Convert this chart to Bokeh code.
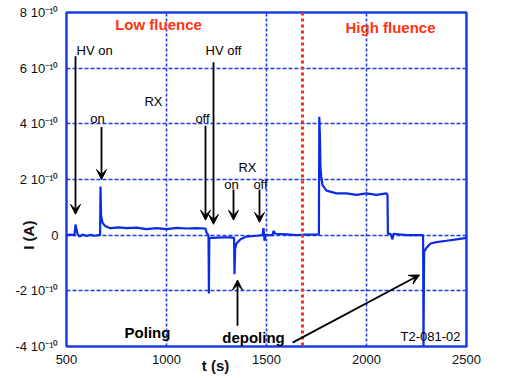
from bokeh.plotting import figure
from bokeh.models import (Arrow, VeeHead, LinearAxis, FixedTicker, Span, ColumnDataSource, Range1d)
from bokeh.core.properties import value
from bokeh.embed import file_html
from bokeh.resources import INLINE

# ---- data (current in units of 1e-10 A) ----
t_s = [500, 520, 540, 545, 550, 555, 565, 580, 600, 620, 640, 660, 668, 670, 673, 680, 690, 700,
       720, 760, 800, 850, 900, 950, 1000, 1050, 1100, 1150, 1195, 1200, 1205, 1210, 1212, 1214,
       1230, 1280, 1320, 1338, 1340, 1343, 1350, 1370, 1400, 1450, 1480, 1485, 1490, 1495, 1530,
       1535, 1545, 1600, 1650, 1700, 1762, 1764, 1767, 1770, 1774, 1780, 1790, 1800, 1850, 1900,
       1950, 2000, 2050, 2100, 2105, 2107, 2120, 2130, 2135, 2200, 2283, 2285, 2288, 2300, 2320,
       2350, 2400, 2450, 2500]
current = [0.0, 0.02, 0.0, 0.38, 0.2, 0.05, -0.05, 0.02, -0.03, 0.01, -0.02, 0.0, 0.0, 1.75, 0.7,
           0.45, 0.35, 0.3, 0.25, 0.28, 0.25, 0.27, 0.22, 0.25, 0.22, 0.26, 0.24, 0.25, 0.24, 0.1,
           0.05, -0.02, -2.1, -0.1, -0.1, -0.08, -0.08, -0.1, -1.4, -0.5, -0.3, -0.15, -0.05, -0.02,
           0.0, 0.25, -0.2, 0.0, 0.0, 0.15, 0.05, 0.03, 0.0, 0.02, 0.03, 4.25, 3.6, 2.4, 2.1, 1.8,
           1.7, 1.6, 1.5, 1.5, 1.45, 1.5, 1.45, 1.5, 1.45, 0.05, 0.05, -0.15, 0.05, 0.0, 0.0, -3.98,
           -0.6, -0.45, -0.3, -0.25, -0.2, -0.15, -0.1]

x_ticks = [500, 1000, 1500, 2000, 2500]
y_ticks = [-4, -2, 0, 2, 4, 6, 8]
y_tick_labels = ["-4 10⁻¹⁰", "-2 10⁻¹⁰", "0", "2 10⁻¹⁰", "4 10⁻¹⁰", "6 10⁻¹⁰", "8 10⁻¹⁰"]

x_title, x_title_at = "t (s)", 1245
y_title, y_title_at = "I (A)", 0

boundary_t = 1680

# annotation texts
note_text = ["HV on", "on", "RX", "off", "HV off", "RX", "on", "off"]
note_x = [550, 655, 935, 1180, 1285, 1405, 1325, 1470]
note_y = [6.64, 4.18, 4.79, 4.18, 6.64, 2.43, 1.82, 1.82]
note_align = ["left", "center", "center", "center", "center", "center", "center", "center"]

fluence_text = ["Low fluence", "High fluence"]
fluence_x = [960, 2120]
fluence_y = [7.57, 7.46]

bold_text = ["Poling", "depoling"]
bold_x = [905, 1435]
bold_y = [-3.5, -3.68]

arrow_x0 = [545, 675, 1195, 1235, 1335, 1465, 1355, 1630]
arrow_y0 = [6.43, 3.89, 3.93, 6.21, 1.64, 1.64, -3.25, -3.86]
arrow_x1 = [545, 675, 1195, 1235, 1335, 1465, 1355, 2265]
arrow_y1 = [0.75, 2.0, 0.54, 0.39, 0.54, 0.46, -1.61, -1.43]

BLUE = "#1c3de0"
FONT = "Liberation Sans"

p = figure(width=505, height=378, output_backend="svg", toolbar_location=None,
           x_range=Range1d(500, 2500), y_range=Range1d(-4, 8),
           min_border_left=66, min_border_right=39, min_border_top=12, min_border_bottom=32)
p.background_fill_color = "white"
p.border_fill_color = "white"
p.outline_line_color = BLUE
p.outline_line_width = 2.5


def style_axis(ax, size="13px", bold=False):
    ax.axis_line_color = None
    ax.major_tick_line_color = None
    ax.minor_tick_line_color = None
    ax.major_tick_out = 0
    ax.major_tick_in = 0
    ax.minor_tick_out = 0
    ax.major_label_text_font = FONT
    ax.major_label_text_font_size = size
    ax.major_label_text_color = "#111111"
    if bold:
        ax.major_label_text_font_style = "bold"


for ax in (p.xaxis, p.yaxis):
    style_axis(ax)

p.xaxis.ticker = FixedTicker(ticks=x_ticks)
p.yaxis.ticker = FixedTicker(ticks=y_ticks)
p.yaxis.major_label_overrides = {v: s for v, s in zip(y_ticks, y_tick_labels)}
p.xaxis.major_label_standoff = 8
p.yaxis.major_label_standoff = 8

# axis titles as extra axes carrying a single labelled tick
xt = LinearAxis(ticker=FixedTicker(ticks=[x_title_at]),
                major_label_overrides={x_title_at: x_title}, major_label_standoff=-10)
style_axis(xt, "15px", True)
p.add_layout(xt, "below")
yt = LinearAxis(ticker=FixedTicker(ticks=[y_title_at]),
                major_label_overrides={y_title_at: y_title}, major_label_standoff=-25,
                major_label_orientation="vertical")
style_axis(yt, "15px", True)
p.add_layout(yt, "left")

p.xgrid.grid_line_color = BLUE
p.ygrid.grid_line_color = BLUE
p.xgrid.ticker = FixedTicker(ticks=x_ticks)
p.ygrid.ticker = FixedTicker(ticks=y_ticks)
p.xgrid.grid_line_dash = "3 2"
p.ygrid.grid_line_dash = "4 2"
p.xgrid.grid_line_width = 1.6
p.ygrid.grid_line_width = 1.6

p.add_layout(Span(location=boundary_t, dimension="height", line_color="#ff3010",
                  line_width=3, line_dash="3 3"))

p.line(t_s, current, line_color="#0a2be6", line_width=2.2)

src = ColumnDataSource(dict(x0=arrow_x0, y0=arrow_y0, x1=arrow_x1, y1=arrow_y1))
p.add_layout(Arrow(x_start="x0", y_start="y0", x_end="x1", y_end="y1", source=src,
                   line_color="black", line_width=1.8,
                   end=VeeHead(size=10, fill_color="black", line_color="black")))

p.text(x=note_x, y=note_y, text=note_text, text_align=note_align, text_baseline="middle",
       text_font=value(FONT), text_font_size="13px", text_color="black")
p.text(x=fluence_x, y=fluence_y, text=fluence_text, text_align="center", text_baseline="middle",
       text_font=value(FONT), text_font_size="15px", text_font_style="bold", text_color="#ff3311")
p.text(x=bold_x, y=bold_y, text=bold_text, text_align="center", text_baseline="middle",
       text_font=value(FONT), text_font_size="15px", text_font_style="bold", text_color="black")
p.text(x=[2320], y=[-3.64], text=["T2-081-02"], text_align="center", text_baseline="middle",
       text_font=value(FONT), text_font_size="13px", text_color="black")

open("out.html", "w").write(file_html(p, INLINE))
